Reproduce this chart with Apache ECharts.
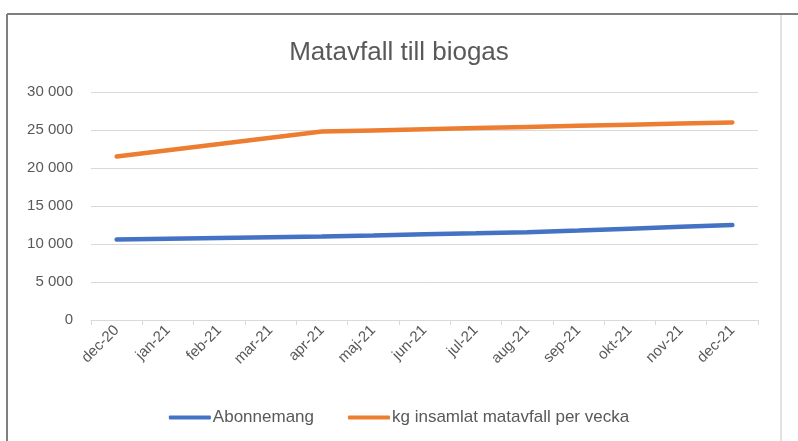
<!DOCTYPE html>
<html>
<head>
<meta charset="utf-8">
<script src="https://cdn.jsdelivr.net/npm/echarts@6/dist/echarts.min.js"></script>
<style>
  html, body { margin: 0; padding: 0; background: #fff; }
  #main { width: 798px; height: 441px; }
</style>
</head>
<body>
<div id="main"></div>
<script>
// Matavfall till biogas - abonnemang och insamlad mängd per vecka
var months = ['dec-20', 'jan-21', 'feb-21', 'mar-21', 'apr-21', 'maj-21', 'jun-21',
              'jul-21', 'aug-21', 'sep-21', 'okt-21', 'nov-21', 'dec-21'];
var abonnemang = [10600, 10700, 10800, 10900, 11000, 11130, 11270, 11400, 11550, 11780, 12020, 12260, 12500];
var kgPerVecka = [21500, 22330, 23150, 23980, 24800, 24950, 25100, 25250, 25400, 25550, 25700, 25850, 26000];
var yTicks = { min: 0, max: 30000, interval: 5000 };

var textColor = '#595959';
var font = 'Liberation Sans';

var chart = echarts.init(document.getElementById('main'));
var option = {
    backgroundColor: '#fff',
    animation: false,
    title: {
        text: 'Matavfall till biogas',
        left: 'center',
        top: 35,
        textStyle: { color: textColor, fontFamily: font, fontSize: 26, fontWeight: 'normal' }
    },
    legend: {
        top: 404,
        left: 'center',
        itemWidth: 42,
        itemHeight: 4,
        itemGap: 34,
        icon: 'roundRect',
        textStyle: { color: textColor, fontFamily: font, fontSize: 17, padding: [0, 0, 0, -3] },
        data: ['Abonnemang', 'kg insamlat matavfall per vecka']
    },
    grid: { left: 91, right: 40, top: 92, bottom: 121 },
    xAxis: {
        type: 'category',
        data: months,
        boundaryGap: true,
        axisLine: { lineStyle: { color: '#d9d9d9', width: 1 } },
        axisTick: { show: true, length: 5, lineStyle: { color: '#d9d9d9' } },
        axisLabel: { rotate: 45, color: textColor, fontFamily: font, fontSize: 15, margin: 8, interval: 0 }
    },
    yAxis: {
        type: 'value',
        min: yTicks.min,
        max: yTicks.max,
        interval: yTicks.interval,
        axisLine: { show: false },
        axisTick: { show: false },
        splitLine: { lineStyle: { color: '#d9d9d9', width: 1 } },
        axisLabel: {
            color: textColor, fontFamily: font, fontSize: 15, margin: 18,
            formatter: function (v) { return String(v).replace(/\B(?=(\d{3})+(?!\d))/g, ' '); }
        }
    },
    series: [
        {
            name: 'Abonnemang',
            type: 'line',
            data: abonnemang,
            symbol: 'none',
            lineStyle: { width: 4.5, color: '#4472C4', cap: 'round' },
            itemStyle: { color: '#4472C4' }
        },
        {
            name: 'kg insamlat matavfall per vecka',
            type: 'line',
            data: kgPerVecka,
            symbol: 'none',
            lineStyle: { width: 4.5, color: '#ED7D31', cap: 'round' },
            itemStyle: { color: '#ED7D31' }
        }
    ],
    graphic: [
        // ram runt diagrammet
        { type: 'line', shape: { x1: 7, y1: 14, x2: 798, y2: 14 }, style: { stroke: '#7f7f7f', lineWidth: 2 } },
        { type: 'line', shape: { x1: 7, y1: 14, x2: 7, y2: 441 }, style: { stroke: '#7f7f7f', lineWidth: 2 } },
        { type: 'line', shape: { x1: 781, y1: 15, x2: 781, y2: 441 }, style: { stroke: '#d9d9d9', lineWidth: 1.5 } }
    ]
};
chart.setOption(option);
</script>
</body>
</html>
